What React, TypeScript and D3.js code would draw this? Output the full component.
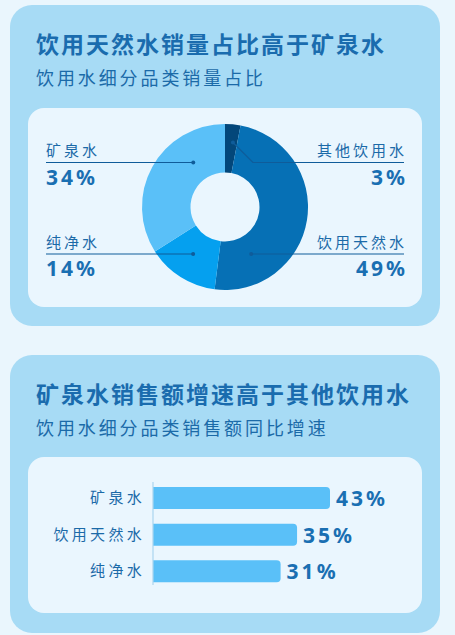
import React from 'react';
import * as d3 from 'd3';

// share of sales volume by drinking-water subcategory (%)
const shareCategories = ['其他饮用水', '饮用天然水', '纯净水', '矿泉水'];
const shareValues = [3, 49, 14, 34];

// YoY growth of sales value (%)
const growthCategories = ['矿泉水', '饮用天然水', '纯净水'];
const growthValues = [43, 35, 31];

const titles = ['饮用天然水销量占比高于矿泉水', '矿泉水销售额增速高于其他饮用水'];
const subtitles = ['饮用水细分品类销量占比', '饮用水细分品类销售额同比增速'];

const W = 455;
const H = 635;
const FONT = '"Noto Sans CJK SC", "Noto Sans", sans-serif';
const NUM_FONT = '"Noto Sans", "DejaVu Sans", sans-serif';
const TEXT = '#1b6aa8';
const LINE = '#0f5c9a';

const sliceColors = ['#03477a', '#0670b5', '#05a0ef', '#5ac0f8'];

// leader layout: dot angle (deg, clockwise from top), dot radius, label side, label row
const leaders: Record<string, { angle: number; r: number; side: 'left' | 'right'; row: number }> = {
  其他饮用水: { angle: 7, r: 65, side: 'right', row: 0 },
  饮用天然水: { angle: 151, r: 54, side: 'right', row: 1 },
  纯净水: { angle: 214, r: 57, side: 'left', row: 1 },
  矿泉水: { angle: 324, r: 54, side: 'left', row: 0 },
};

function Card({ y, h, title, subtitle, boxY, boxH }: { y: number; h: number; title: string; subtitle: string; boxY: number; boxH: number }) {
  return (
    <g>
      <rect x={10} y={y} width={430} height={h} rx={22} fill="#a7dbf5" />
      <text x={36} y={y + 48} fontFamily={FONT} fontSize={23} fontWeight={700} letterSpacing={2} fill="#1a6cae">
        {title}
      </text>
      <text x={36} y={y + 80} fontFamily={FONT} fontSize={18} letterSpacing={2.9} fill={TEXT}>
        {subtitle}
      </text>
      <rect x={28} y={boxY} width={394} height={boxH} rx={16} fill="#eaf6fe" />
    </g>
  );
}

function Donut() {
  const cx = 225;
  const cy = 207;
  const pie = d3.pie<number>().sort(null).value((d) => d);
  const arcs = pie(shareValues);
  const arc = d3.arc<d3.PieArcDatum<number>>().innerRadius(34.5).outerRadius(83);
  const rowY = [162.5, 254];
  const leftX = 46;
  const rightX = 404;

  return (
    <g>
      <g transform={`translate(${cx},${cy})`}>
        {arcs.map((a, i) => (
          <path key={shareCategories[i]} d={arc(a) || ''} fill={sliceColors[i]} />
        ))}
      </g>
      {shareCategories.map((name, i) => {
        const l = leaders[name];
        const [px, py] = d3.pointRadial((l.angle * Math.PI) / 180, l.r);
        const dx = cx + px;
        const dy = cy + py;
        const ly = rowY[l.row];
        const left = l.side === 'left';
        const bent = !left && Math.abs(dy - ly) > 2;
        let points: [number, number][];
        if (left) {
          points = [[leftX, ly], [dx, ly]];
        } else if (bent) {
          points = [[dx, dy], [dx + 20, ly], [rightX, ly]];
        } else {
          points = [[dx, ly], [rightX, ly]];
        }
        const tx = left ? leftX : rightX + 3;
        return (
          <g key={name}>
            <path d={d3.line()(points) || ''} fill="none" stroke={LINE} strokeWidth={1.2} />
            <circle cx={dx} cy={bent ? dy : ly} r={2} fill={LINE} />
            <text x={tx} y={ly - 6.5} fontFamily={FONT} fontSize={15} letterSpacing={3} textAnchor={left ? 'start' : 'end'} fill={TEXT}>
              {name}
            </text>
            <text x={left ? leftX : rightX + 4} y={ly + 22} fontFamily={NUM_FONT} fontSize={21} fontWeight={700} letterSpacing={3} textAnchor={left ? 'start' : 'end'} fill="#1a6fb2">
              {shareValues[i]}%
            </text>
          </g>
        );
      })}
    </g>
  );
}

function Bars() {
  const x0 = 153;
  const x = d3.scaleLinear().domain([0, 43]).range([x0, x0 + 177]);
  const y = d3.scaleBand<string>().domain(growthCategories).range([487, 582.3]).paddingInner(0.4).paddingOuter(0);
  const bw = y.bandwidth();
  const rr = 4;

  return (
    <g>
      {growthCategories.map((c, i) => {
        const by = y(c) ?? 0;
        const xe = x(growthValues[i]);
        const d = `M${x0},${by}H${xe - rr}Q${xe},${by} ${xe},${by + rr}V${by + bw - rr}Q${xe},${by + bw} ${xe - rr},${by + bw}H${x0}Z`;
        return (
          <g key={c}>
            <path d={d} fill="#5ac0f8" />
            <text x={145} y={by + bw / 2 + 5} fontFamily={FONT} fontSize={15} letterSpacing={3.3} textAnchor="end" fill={TEXT}>
              {c}
            </text>
            <text x={xe + 6} y={by + bw / 2 + 8} fontFamily={NUM_FONT} fontSize={21} fontWeight={700} letterSpacing={3} fill="#1a6fb2">
              {growthValues[i]}%
            </text>
          </g>
        );
      })}
      <line x1={x0} x2={x0} y1={482} y2={585} stroke="#a9d6ef" strokeWidth={1.2} />
    </g>
  );
}

export default function App() {
  return (
    <svg width={W} height={H} style={{ position: 'absolute', left: 0, top: 0, background: '#eaf6fd' }}>
      <rect width={W} height={H} fill="#eaf6fd" />
      <Card y={5} h={321} title={titles[0]} subtitle={subtitles[0]} boxY={108} boxH={199} />
      <Card y={355} h={278} title={titles[1]} subtitle={subtitles[1]} boxY={457} boxH={156} />
      <Donut />
      <Bars />
    </svg>
  );
}
